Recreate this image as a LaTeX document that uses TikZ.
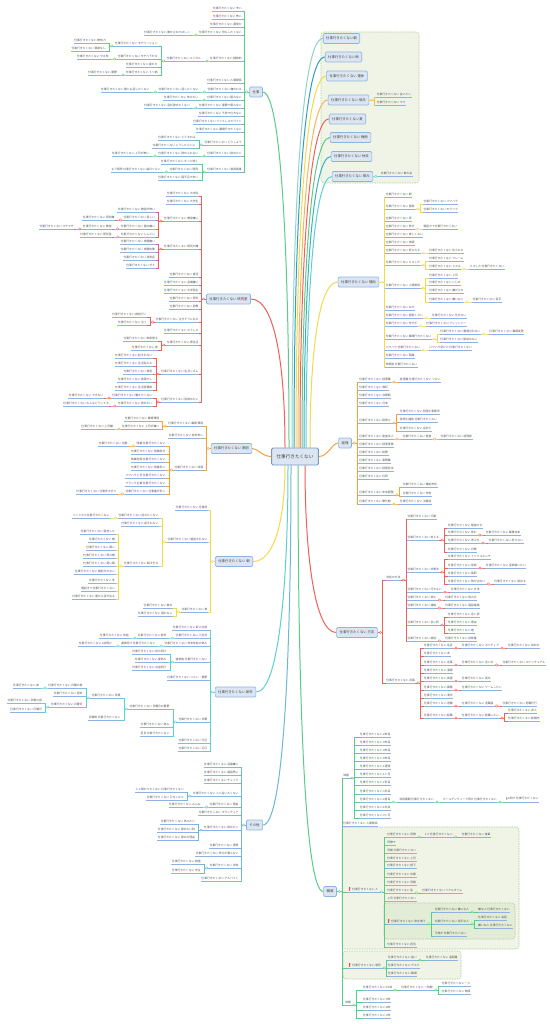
\documentclass[tikz,border=0pt]{standalone}
\usepackage{fontspec}
\newfontfamily\jp{Noto Sans CJK JP}
\usetikzlibrary{calc,backgrounds}
\definecolor{cG}{HTML}{5BCB8A}
\definecolor{cR}{HTML}{F0605A}
\definecolor{cO}{HTML}{F6A03A}
\definecolor{cY}{HTML}{F2DA48}
\definecolor{cT}{HTML}{5DD0CF}
\definecolor{cB}{HTML}{6CB8D6}
\definecolor{cT1}{HTML}{8FD3CF}
\definecolor{cT2}{HTML}{2E9FBF}
\definecolor{cT3}{HTML}{3AB0C0}
\definecolor{cP}{HTML}{F7B65A}
\definecolor{ul}{HTML}{8DB3E2}
\definecolor{bxf}{HTML}{DCE6F2}
\definecolor{bxd}{HTML}{8DB3E2}
\definecolor{tx}{HTML}{555555}
\definecolor{grf}{HTML}{EFF4E7}
\definecolor{grf2}{HTML}{E3ECD6}
\definecolor{grd}{HTML}{B5CD92}
\definecolor{flagc}{HTML}{F04A3A}
\newcommand\sk{仕事行きたくない}
\newcommand\Lf[5][8]{\path let \p1=(#3),\p2=(0,#4) in node[leaf,anchor=south east] (#2) at (\x1-#1pt,\y2) {#5};}
\newcommand\Rf[5][8]{\path let \p1=(#3),\p2=(0,#4) in node[leaf,anchor=south west] (#2) at (\x1+#1pt,\y2) {#5};}
\newcommand\Lc[3]{\foreach \ch in {#3}{\draw[br=#1] (#2) -- ++(-5,0) |- (\ch.south east);}\node[mk=#1] at ($(#2)+(-2.6,0)$) {};}
\newcommand\Rc[3]{\foreach \ch in {#3}{\draw[br=#1] (#2) -- ++(5,0) |- (\ch.south west);}\node[mk=#1] at ($(#2)+(2.6,0)$) {};}
\newcommand\Flag[1]{\fill[flagc] ($(#1.south west)+(1.0,-1.3)$) rectangle ++(0.35,-3.4); \fill[flagc] ($(#1.south west)+(1.35,-4.7)$) -- ++(2.2,0.7) -- ++(-2.2,0.7) -- cycle;}
\begin{document}
\begin{tikzpicture}[x=1pt,y=-1pt,
 leaf/.style={font=\jp\fontsize{2.8}{3.2}\selectfont,text=tx,inner xsep=0.6pt,inner ysep=1.4pt,outer sep=0pt,
   append after command={(\tikzlastnode.south west) edge[draw=ul,line width=0.75pt] (\tikzlastnode.south east)}},
 bx/.style={font=\jp\fontsize{3.4}{4}\selectfont,text=black!75,draw=bxd,fill=bxf,line width=0.7pt,rounded corners=1.3pt,inner xsep=3pt,inner ysep=0pt,minimum height=10pt},
 ctrs/.style={font=\jp\fontsize{4.6}{5}\selectfont,text=black!75,draw=bxd!85!black,fill=bxf,line width=0.9pt,rounded corners=1.5pt,minimum height=17pt,inner xsep=5pt,inner ysep=0pt},
 mk/.style={circle,draw=#1,fill=white,line width=0.35pt,inner sep=0pt,minimum size=2.4pt},
 br/.style={draw=#1,line width=0.5pt},
 rt/.style={draw=#1,line width=1pt},
 gbox/.style={fill=grf,draw=grd,dash pattern=on 1.5pt off 1pt,line width=0.6pt,rounded corners=3pt}]
\useasboundingbox (0,0) rectangle (549,1024);
\node[ctrs] (ctr) at (295,456.5) {\sk};

% ---------- 仕事 ----------
\node[bx] (g0) at (256,92) {仕事};
\Lf[7]{g1}{g0.west}{11}{\sk{} 辛い}
\Lf[7]{g2}{g0.west}{19}{\sk{} 怖い}
\Lf[7]{g3}{g0.west}{27}{\sk{} 面倒だ}
\Lf[7]{g4}{g0.west}{35}{\sk{} 何もしたくない}
\Lf{g4a}{g4.south west}{35}{\sk{} 誰か止めてほしい}
\Lf[7]{g5}{g0.west}{61}{\sk{} 精神的}
\Lf{g5a}{g5.south west}{61}{\sk{} メンタル}
\Lf{g5a1}{g5a.south west}{46}{\sk{} モチベーション}
\Lf{g5a1a}{g5a1.south west}{43}{\sk{} 無気力}
\Lf{g5a1b}{g5a1.south west}{51}{\sk{} 意欲なし}
\Lf{g5a2}{g5a.south west}{59}{\sk{} モチベ下がる}
\Lf{g5a2a}{g5a2.south west}{59}{\sk{} やる気}
\Lf{g5a3}{g5a.south west}{67}{\sk{} 疲れた}
\Lf{g5a4}{g5a.south west}{75}{\sk{} うつ病}
\Lf{g5a4a}{g5a4.south west}{75}{\sk{} 憂鬱}
\Lf[7]{g6}{g0.west}{83}{\sk{} 人間関係}
\Lf[7]{g7}{g0.west}{92}{\sk{} 嫌われる}
\Lf{g7a}{g7.south west}{92}{\sk{} 話したくない}
\Lf{g7a1}{g7a.south west}{92}{\sk{} 誰とも話したくない}
\Lf[7]{g8}{g0.west}{100}{\sk{} 眠れない}
\Lf{g8a}{g8.south west}{100}{\sk{} 休みたい}
\Lf[7]{g9}{g0.west}{108}{\sk{} 憂鬱で眠れない}
\Lf{g9a}{g9.south west}{108}{\sk{} 会社辞めたくない}
\Lf[7]{g10}{g0.west}{116}{\sk{} 不安で仕方ない}
\Lf[7]{g11}{g0.west}{124}{\sk{} ファミレスでバイト}
\Lf[7]{g12}{g0.west}{132}{\sk{} 職場行きたくない}
\Lf[7]{g13}{g0.west}{145}{\sk{} どうしよう}
\Lf{g13a}{g13.south west}{140}{\sk{} どうすれば}
\Lf{g13b}{g13.south west}{148}{\sk{} どうしたらいい}
\Lf[7]{g14}{g0.west}{156}{\sk{} 辞めたい}
\Lf{g14a}{g14.south west}{156}{\sk{} 辞められない}
\Lf{g14a1}{g14a.south west}{156}{\sk{} 上司が怖い}
\Lf[7]{g15}{g0.west}{172}{\sk{} 満員電車}
\Lf{g15a}{g15.south west}{164}{\sk{} ずっと続く}
\Lf{g15b}{g15.south west}{172}{\sk{} 限界}
\Lf{g15b1}{g15b.south west}{172}{もう限界 \sk{} 毎日つらい}
\Lf{g15c}{g15.south west}{180}{\sk{} 寝不足で辛い}
\Lc{cG}{g0.west}{g1,g2,g3,g4,g5,g6,g7,g8,g9,g10,g11,g12,g13,g14,g15}
\Lc{cG}{g4.south west}{g4a}
\Lc{cG}{g5.south west}{g5a}
\Lc{cG}{g5a.south west}{g5a1,g5a2,g5a3,g5a4}
\Lc{cG}{g5a1.south west}{g5a1a,g5a1b}
\Lc{cG}{g5a2.south west}{g5a2a}
\Lc{cG}{g5a4.south west}{g5a4a}
\Lc{cG}{g7.south west}{g7a}
\Lc{cG}{g7a.south west}{g7a1}
\Lc{cG}{g8.south west}{g8a}
\Lc{cG}{g9.south west}{g9a}
\Lc{cG}{g13.south west}{g13a,g13b}
\Lc{cG}{g14.south west}{g14a}
\Lc{cG}{g14a.south west}{g14a1}
\Lc{cG}{g15.south west}{g15a,g15b,g15c}
\Lc{cG}{g15b.south west}{g15b1}

% ---------- 研究室 ----------
\node[bx] (k0) at (228.5,299) {\sk{} 研究室};
\Lf[7]{k1}{k0.west}{196}{\sk{} 大学院}
\Lf[7]{k2}{k0.west}{204}{\sk{} 大学生}
\Lf[7]{k3}{k0.west}{221}{\sk{} 教授嫌い}
\Lf{k3a}{k3.south west}{212}{\sk{} 教授が怖い}
\Lf{k3b}{k3.south west}{220}{\sk{} 苦しい}
\Lf{k3b1}{k3b.south west}{220}{\sk{} 研究嫌}
\Lf{k3c}{k3.south west}{229}{\sk{} 論文嫌い}
\Lf{k3c1}{k3c.south west}{229}{\sk{} 教授}
\Lf{k3c1a}{k3c1.south west}{229}{\sk{} マチマチ}
\Lf{k3d}{k3.south west}{237}{\sk{} しんどい}
\Lf{k3d1}{k3d.south west}{237}{\sk{} 研究室}
\Lf[7]{k4}{k0.west}{249}{\sk{} 研究が嫌}
\Lf{k4a}{k4.south west}{244}{\sk{} 実験嫌い}
\Lf{k4b}{k4.south west}{252}{\sk{} 実験失敗}
\Lf{k4c}{k4.south west}{260}{\sk{} 発表会}
\Lf{k4d}{k4.south west}{268}{\sk{} ゼミ}
\Lf[7]{k5}{k0.west}{277}{\sk{} 就活}
\Lf[7]{k6}{k0.west}{285}{\sk{} 会議嫌い}
\Lf[7]{k7}{k0.west}{293}{\sk{} 大学院生}
\Lf[7]{k8}{k0.west}{301}{\sk{} 研究}
\Lf[7]{k9}{k0.west}{309}{\sk{} 助教}
\Lf[7]{k10}{k0.west}{322}{\sk{} 泣きそうになる}
\Lf{k10a}{k10.south west}{317}{\sk{} 病院行く}
\Lf{k10b}{k10.south west}{325}{\sk{} 泣く}
\Lf[7]{k11}{k0.west}{333}{\sk{} ストレス}
\Lf[7]{k12}{k0.west}{345}{\sk{} 寮生活}
\Lf{k12a}{k12.south west}{341}{\sk{} 実家帰る}
\Lf{k12b}{k12.south west}{350}{\sk{} 家}
\Lf[7]{k13}{k0.west}{374}{\sk{} 生活リズム}
\Lf{k13a}{k13.south west}{358}{\sk{} 起きれない}
\Lf{k13b}{k13.south west}{366}{\sk{} 生活乱れる}
\Lf{k13c}{k13.south west}{374}{\sk{} 夜型}
\Lf{k13d}{k13.south west}{382}{\sk{} 夜更かし}
\Lf{k13e}{k13.south west}{390}{\sk{} 生活習慣病}
\Lf[7]{k14}{k0.west}{402}{\sk{} 院辞めたい}
\Lf{k14a}{k14.south west}{398}{\sk{} 働きたくない}
\Lf{k14a1}{k14a.south west}{398}{\sk{} できない}
\Lf{k14b}{k14.south west}{406}{\sk{} 辞めたい}
\Lf{k14b1}{k14b.south west}{406}{\sk{} みんなどうしてる}
\Lc{cR}{k0.west}{k1,k2,k3,k4,k5,k6,k7,k8,k9,k10,k11,k12,k13,k14}
\Lc{cR}{k3.south west}{k3a,k3b,k3c,k3d}
\Lc{cR}{k3b.south west}{k3b1}
\Lc{cR}{k3c.south west}{k3c1}
\Lc{cR}{k3c1.south west}{k3c1a}
\Lc{cR}{k3d.south west}{k3d1}
\Lc{cR}{k4.south west}{k4a,k4b,k4c,k4d}
\Lc{cR}{k10.south west}{k10a,k10b}
\Lc{cR}{k12.south west}{k12a,k12b}
\Lc{cR}{k13.south west}{k13a,k13b,k13c,k13d,k13e}
\Lc{cR}{k14.south west}{k14a,k14b}
\Lc{cR}{k14a.south west}{k14a1}
\Lc{cR}{k14b.south west}{k14b1}

% ---------- 原因 ----------
\node[bx] (y0) at (231.5,448.5) {\sk{} 原因};
\Lf[7]{y1}{y0.west}{426}{\sk{} 職場 環境}
\Lf{y1a}{y1.south west}{421}{\sk{} 職場環境}
\Lf{y1b}{y1.south west}{429}{\sk{} 上司が嫌い}
\Lf{y1b1}{y1b.south west}{429}{\sk{} 上司嫌}
\Lf[7]{y2}{y0.west}{438}{\sk{} 給料安い}
\Lf[7]{y3}{y0.west}{470}{\sk{} 待遇}
\Lf{y3a}{y3.south west}{446}{残業 \sk}
\Lf{y3a1}{y3a.south west}{446}{\sk{} 出勤}
\Lf{y3b}{y3.south west}{454}{\sk{} 残業続き}
\Lf{y3c}{y3.south west}{462}{残業地獄 \sk}
\Lf{y3d}{y3.south west}{470}{\sk{} 残業多い}
\Lf{y3e}{y3.south west}{478}{パワハラ上司 \sk}
\Lf{y3f}{y3.south west}{486}{ブラック企業 \sk}
\Lf{y3g}{y3.south west}{494}{\sk{} 仕事量が多い}
\Lf{y3g1}{y3g.south west}{494}{\sk{} 仕事多すぎて}
\Lc{cO}{y0.west}{y1,y2,y3}
\Lc{cO}{y1.south west}{y1a,y1b}
\Lc{cO}{y1b.south west}{y1b1}
\Lc{cO}{y3.south west}{y3a,y3b,y3c,y3d,y3e,y3f,y3g}
\Lc{cO}{y3a.south west}{y3a1}
\Lc{cO}{y3g.south west}{y3g1}

% ---------- 朝 ----------
\node[bx] (a0) at (234,561.5) {\sk{} 朝};
\Lf[7]{a1}{a0.west}{510}{\sk{} 月曜日}
\Lf[7]{a2}{a0.west}{542}{\sk{} 朝起きれない}
\Lf{a2a}{a2.south west}{518}{\sk{} 起きたくない}
\Lf{a2a1}{a2a.south west}{518}{ベッドから\sk}
\Lf{a2b}{a2.south west}{526}{\sk{} 起きれない}
\Lf{a2c}{a2.south west}{566}{\sk{} 眠すぎる}
\Lf{a2c1}{a2c.south west}{534}{\sk{} 寝坊した}
\Lf{a2c2}{a2c.south west}{542}{\sk{} 朝}
\Lf{a2c3}{a2c.south west}{550}{\sk{} 眠い}
\Lf{a2c4}{a2c.south west}{558}{\sk{} 雨の朝}
\Lf{a2c5}{a2c.south west}{566}{\sk{} 寒い朝}
\Lf{a2c6}{a2c.south west}{574}{\sk{} 朝起きれない}
\Lf{a2c7}{a2c.south west}{583}{\sk{} 冬}
\Lf{a2c8}{a2c.south west}{591}{朝起きて\sk}
\Lf{a2c9}{a2c.south west}{599}{\sk{} 朝から涙が出る}
\Lf[7]{a3}{a0.west}{612}{\sk{} 夜}
\Lf{a3a}{a3.south west}{608}{\sk{} 夜中}
\Lf{a3b}{a3.south west}{616}{\sk{} 寝れない}
\Lc{cY}{a0.west}{a1,a2,a3}
\Lc{cY}{a2.south west}{a2a,a2b,a2c}
\Lc{cY}{a2a.south west}{a2a1}
\Lc{cY}{a2c.south west}{a2c1,a2c2,a2c3,a2c4,a2c5,a2c6,a2c7,a2c8,a2c9}
\Lc{cY}{a3.south west}{a3a,a3b}

% ---------- 新卒 ----------
\node[bx] (t0) at (235.5,692) {\sk{} 新卒};
\Lf[7]{t1}{t0.west}{630}{\sk{} 新入社員}
\Lf[7]{t2}{t0.west}{638}{\sk{} 入社式}
\Lf{t2a}{t2.south west}{638}{\sk{} 新年}
\Lf{t2a1}{t2a.south west}{638}{\sk{} 年始}
\Lf[7]{t3}{t0.west}{646}{\sk{} 年末年始の休み}
\Lf{t3a}{t3.south west}{646}{連休明け \sk}
\Lf{t3a1}{t3a.south west}{646}{\sk{} GW明け}
\Lf[7]{t4}{t0.west}{662}{連休後 \sk}
\Lf{t4a}{t4.south west}{654}{\sk{} 休み明け}
\Lf{t4b}{t4.south west}{662}{\sk{} 夏休み}
\Lf{t4c}{t4.south west}{670}{\sk{} お盆明け}
\Lf[7]{t5}{t0.west}{680}{\sk{} つらい・憂鬱}
\Lf[7]{t6}{t0.west}{722}{\sk{} 日曜}
\Lf{t6a}{t6.south west}{709}{\sk{} 日曜日の憂鬱}
\Lf{t6a1}{t6a.south west}{698}{\sk{} 日曜}
\Lf{t6a1a}{t6a1.south west}{688}{\sk{} 日曜の夜}
\Lf{t6a1a1}{t6a1a.south west}{688}{\sk{} 夜}
\Lf{t6a1b}{t6a1.south west}{696}{\sk{} 週末}
\Lf{t6a1c}{t6a1.south west}{707}{\sk{} 日曜日}
\Lf{t6a1c1}{t6a1c.south west}{703}{\sk{} 日曜の昼}
\Lf{t6a1c2}{t6a1c.south west}{712}{\sk{} 月曜日}
\Lf{t6a2}{t6a.south west}{720}{日曜夜 \sk}
\Lf{t6b}{t6.south west}{727}{\sk{} 休み}
\Lf{t6c}{t6.south west}{736}{翌日 \sk}
\Lf[7]{t7}{t0.west}{743}{\sk{} 元旦}
\Lf[7]{t8}{t0.west}{751}{\sk{} 正月}
\Lc{cT}{t0.west}{t1,t2,t3,t4,t5,t6,t7,t8}
\Lc{cT}{t2.south west}{t2a}
\Lc{cT}{t2a.south west}{t2a1}
\Lc{cT}{t3.south west}{t3a}
\Lc{cT}{t3a.south west}{t3a1}
\Lc{cT}{t4.south west}{t4a,t4b,t4c}
\Lc{cT}{t6.south west}{t6a,t6b,t6c}
\Lc{cT}{t6a.south west}{t6a1,t6a2}
\Lc{cT}{t6a1.south west}{t6a1a,t6a1b,t6a1c}
\Lc{cT}{t6a1a.south west}{t6a1a1}
\Lc{cT}{t6a1c.south west}{t6a1c1,t6a1c2}

% ---------- その他 ----------
\node[bx] (s0) at (254.5,825) {その他};
\Lf[7]{s1}{s0.west}{767}{\sk{} 会議嫌い}
\Lf[7]{s2}{s0.west}{775}{\sk{} 電話怖い}
\Lf[7]{s3}{s0.west}{783}{\sk{} チェック}
\Lf[7]{s4}{s0.west}{796}{\sk{} 人と会いたくない}
\Lf{s4a}{s4.south west}{792}{人と関わりたくない \sk}
\Lf{s4b}{s4.south west}{800}{\sk{} 引きこもり}
\Lf[7]{s5}{s0.west}{807}{\sk{} 理由}
\Lf{s5a}{s5.south west}{807}{\sk{} みんな}
\Lf[7]{s6}{s0.west}{815}{\sk{} ボランティア}
\Lf[7]{s7}{s0.west}{830}{\sk{} 辞めたい}
\Lf{s7a}{s7.south west}{824}{\sk{} 休みたい}
\Lf{s7b}{s7.south west}{832}{\sk{} 辞めたい時}
\Lf{s7c}{s7.south west}{840}{\sk{} 辞める理由}
\Lf[7]{s8}{s0.west}{848}{\sk{} 理想}
\Lf[7]{s9}{s0.west}{856}{\sk{} 気分が乗らない}
\Lf[7]{s10}{s0.west}{868}{\sk{} 学校}
\Lf{s10a}{s10.south west}{864}{\sk{} 勉強}
\Lf{s10b}{s10.south west}{873}{\sk{} 学生}
\Lf[7]{s11}{s0.west}{881}{\sk{} アルバイト}
\Lc{cB}{s0.west}{s1,s2,s3,s4,s5,s6,s7,s8,s9,s10,s11}
\Lc{cB}{s4.south west}{s4a,s4b}
\Lc{cB}{s5.south west}{s5a}
\Lc{cB}{s7.south west}{s7a,s7b,s7c}
\Lc{cB}{s10.south west}{s10a,s10b}

% ---------- right top boxes ----------
\node[bx] (r1) at (341.5,38.5) {\sk 朝};
\node[bx] (r2) at (343.5,57) {\sk 雨};
\node[bx] (r3) at (347,76) {\sk{} 連休};
\node[bx] (r4) at (348.5,100) {\sk{} 彼氏};
\Rf[7]{r4a}{r4.east}{97}{\sk{} 会いたい}
\Rf[7]{r4b}{r4.east}{105}{\sk{} ママ}
\node[bx] (r5) at (347.5,119) {\sk 夏};
\node[bx] (r6) at (350.5,137.5) {\sk{} 梅雨};
\node[bx] (r7) at (351.5,156.5) {\sk{} 休日};
\node[bx] (r8) at (352.5,176.5) {\sk{} 飲み};
\Rf[7]{r8a}{r8.east}{176.5}{\sk{} 飲み会}
\Rc{cP}{r4.east}{r4a,r4b}
\Rc{cT}{r8.east}{r8a}

% ---------- 理由 ----------
\node[bx] (ri0) at (358.5,282) {\sk{} 理由};
\Rf[6]{ri1}{ri0.east}{197}{\sk{} 朝}
\Rf[6]{ri2}{ri0.east}{209}{\sk{} 面倒}
\Rf{ri2a}{ri2.south east}{204}{\sk{} パワハラ}
\Rf{ri2b}{ri2.south east}{212}{\sk{} モラハラ}
\Rf[6]{ri3}{ri0.east}{221}{\sk{} 雨}
\Rf[6]{ri4}{ri0.east}{229}{\sk{} 気分}
\Rf{ri4a}{ri4.south east}{229}{朝起きて\sk}
\Rf[6]{ri5}{ri0.east}{237}{\sk{} 楽しくない}
\Rf[6]{ri6}{ri0.east}{245}{\sk{} 体調}
\Rf[6]{ri7}{ri0.east}{253}{\sk{} 怒られる}
\Rf{ri7a}{ri7.south east}{253}{\sk{} 叱られる}
\Rf[6]{ri8}{ri0.east}{265}{\sk{} ミスした}
\Rf{ri8a}{ri8.south east}{261}{\sk{} クレーム}
\Rf{ri8b}{ri8.south east}{269}{\sk{} ミスる}
\Rf{ri8b1}{ri8b.south east}{269}{ミスした \sk}
\Rf[6]{ri9}{ri0.east}{288}{\sk{} 人間関係}
\Rf{ri9a}{ri9.south east}{278}{\sk{} 上司}
\Rf{ri9b}{ri9.south east}{285}{\sk{} いじめ}
\Rf{ri9c}{ri9.south east}{293}{\sk{} 嫌がらせ}
\Rf{ri9d}{ri9.south east}{302}{\sk{} 嫌いな人}
\Rf{ri9d1}{ri9d.south east}{302}{\sk{} 苦手}
\Rf[6]{ri10}{ri0.east}{310}{\sk{} なぜ}
\Rf[6]{ri11}{ri0.east}{318}{\sk{} 面倒くさい}
\Rf{ri11a}{ri11.south east}{318}{\sk{} 仕方ない}
\Rf[6]{ri12}{ri0.east}{326}{\sk{} 辛すぎ}
\Rf{ri12a}{ri12.south east}{326}{\sk{} プレッシャー}
\Rf[6]{ri13}{ri0.east}{339}{\sk{} 職場行きたくない}
\Rf{ri13a}{ri13.south east}{334}{\sk{} 職場合わない}
\Rf{ri13a1}{ri13a.south east}{334}{\sk{} 職場変更}
\Rf{ri13b}{ri13.south east}{342}{\sk{} 馴染めない}
\Rf[6]{ri14}{ri0.east}{350}{パワハラ \sk}
\Rf{ri14a}{ri14.south east}{350}{パワハラ受けた \sk}
\Rf[6]{ri15}{ri0.east}{358}{\sk{} 頭痛}
\Rf[6]{ri16}{ri0.east}{367}{休暇後 \sk}
\Rc{cY}{ri0.east}{ri1,ri2,ri3,ri4,ri5,ri6,ri7,ri8,ri9,ri10,ri11,ri12,ri13,ri14,ri15,ri16}
\Rc{cY}{ri2.south east}{ri2a,ri2b}
\Rc{cY}{ri4.south east}{ri4a}
\Rc{cY}{ri7.south east}{ri7a}
\Rc{cY}{ri8.south east}{ri8a,ri8b}
\Rc{cY}{ri8b.south east}{ri8b1}
\Rc{cY}{ri9.south east}{ri9a,ri9b,ri9c,ri9d}
\Rc{cY}{ri9d.south east}{ri9d1}
\Rc{cY}{ri11.south east}{ri11a}
\Rc{cY}{ri12.south east}{ri12a}
\Rc{cY}{ri13.south east}{ri13a,ri13b}
\Rc{cY}{ri13a.south east}{ri13a1}
\Rc{cY}{ri14.south east}{ri14a}

% ---------- 経理 ----------
\node[bx] (kr0) at (345,443) {経理};
\Rf[7]{kr1}{kr0.east}{382}{\sk{} 経理職}
\Rf{kr1a}{kr1.south east}{382}{経理職 \sk{} つらい}
\Rf[7]{kr2}{kr0.east}{390}{\sk{} 簿記}
\Rf[7]{kr3}{kr0.east}{398}{\sk{} 決算期}
\Rf[7]{kr4}{kr0.east}{406}{\sk{} 月末}
\Rf[7]{kr5}{kr0.east}{423}{\sk{} 税理士}
\Rf{kr5a}{kr5.south east}{414}{\sk{} 税理士事務所}
\Rf{kr5b}{kr5.south east}{422}{税理士補助 \sk}
\Rf{kr5c}{kr5.south east}{431}{\sk{} 会計士}
\Rf[7]{kr6}{kr0.east}{439}{\sk{} 監査法人}
\Rf{kr6a}{kr6.south east}{439}{\sk{} 監査}
\Rf{kr6a1}{kr6a.south east}{439}{\sk{} 経理部}
\Rf[7]{kr7}{kr0.east}{447}{\sk{} 経理事務}
\Rf[7]{kr8}{kr0.east}{455}{\sk{} 総務}
\Rf[7]{kr9}{kr0.east}{463}{\sk{} 事務職}
\Rf[7]{kr10}{kr0.east}{471}{\sk{} 経理担当}
\Rf[7]{kr11}{kr0.east}{479}{\sk{} 仕訳}
\Rf[7]{kr12}{kr0.east}{495}{\sk{} 年末調整}
\Rf{kr12a}{kr12.south east}{487}{\sk{} 確定申告}
\Rf{kr12b}{kr12.south east}{496}{\sk{} 申告}
\Rf[7]{kr13}{kr0.east}{504}{\sk{} 繁忙期}
\Rf{kr13a}{kr13.south east}{504}{\sk{} 決算前}
\Rc{cO}{kr0.east}{kr1,kr2,kr3,kr4,kr5,kr6,kr7,kr8,kr9,kr10,kr11,kr12,kr13}
\Rc{cO}{kr1.south east}{kr1a}
\Rc{cO}{kr5.south east}{kr5a,kr5b,kr5c}
\Rc{cO}{kr6.south east}{kr6a}
\Rc{cO}{kr6a.south east}{kr6a1}
\Rc{cO}{kr12.south east}{kr12a,kr12b}
\Rc{cO}{kr13.south east}{kr13a}

% ---------- 方法 ----------
\node[bx] (h0) at (357,632.5) {\sk{} 方法};
\Rf{hA}{h0.east}{580}{対処の方法}
\Rf[6]{hA1}{hA.south east}{519}{\sk{} 行動}
\Rf[6]{hA2}{hA.south east}{540}{\sk{} 考える}
\Rf{hA2a}{hA2.south east}{528}{\sk{} 勉強する}
\Rf{hA2b}{hA2.south east}{535}{\sk{} 休む}
\Rf{hA2b1}{hA2b.south east}{535}{\sk{} 業務効率}
\Rf{hA2c}{hA2.south east}{543}{\sk{} 考え方}
\Rf{hA2c1}{hA2c.south east}{543}{\sk{} 考えない}
\Rf{hA2d}{hA2.south east}{552}{\sk{} 対策}
\Rf[6]{hA3}{hA.south east}{572}{\sk{} 対策法}
\Rf{hA3a}{hA3.south east}{559}{\sk{} インフルエンザ}
\Rf{hA3b}{hA3.south east}{568}{\sk{} 仮病}
\Rf{hA3b1}{hA3b.south east}{568}{\sk{} 仮病使いたい}
\Rf{hA3c}{hA3.south east}{576}{\sk{} 風邪}
\Rf{hA3d}{hA3.south east}{584}{\sk{} 熱が出ない}
\Rf{hA3d1}{hA3d.south east}{584}{\sk{} 熱出す}
\Rf[6]{hA4}{hA.south east}{592}{\sk{} 行かない}
\Rf{hA4a}{hA4.south east}{592}{\sk{} 方法}
\Rf[6]{hA5}{hA.south east}{600}{\sk{} 休む}
\Rf{hA5a}{hA5.south east}{600}{\sk{} 休み方}
\Rf[6]{hA6}{hA.south east}{608}{\sk{} 連絡}
\Rf{hA6a}{hA6.south east}{608}{\sk{} 電話連絡}
\Rf[6]{hA7}{hA.south east}{625}{\sk{} 言い訳}
\Rf{hA7a}{hA7.south east}{617}{\sk{} 言い訳}
\Rf{hA7b}{hA7.south east}{625}{\sk{} 理由}
\Rf{hA7c}{hA7.south east}{633}{\sk{} 嘘}
\Rf[6]{hA8}{hA.south east}{641}{\sk{} 病院}
\Rf{hA8a}{hA8.south east}{641}{\sk{} 診断書}
\Rf{hB}{h0.east}{683}{\sk{} 言葉}
\Rf{hB1}{hB.south east}{648}{\sk{} 名言}
\Rf{hB1a}{hB1.south east}{648}{\sk{} ポジティブ}
\Rf{hB1a1}{hB1a.south east}{648}{\sk{} 前向き}
\Rf{hB2}{hB.south east}{656}{\sk{} 本}
\Rf{hB3}{hB.south east}{665}{\sk{} 言葉}
\Rf{hB3a}{hB3.south east}{665}{\sk{} 言い方}
\Rf{hB3a1}{hB3a.south east}{665}{\sk{} スピリチュアル}
\Rf{hB4}{hB.south east}{673}{\sk{} 漫画}
\Rf{hB5}{hB.south east}{681}{\sk{} 英語}
\Rf{hB5a}{hB5.south east}{681}{\sk{} 英文}
\Rf{hB6}{hB.south east}{690}{\sk{} 画像}
\Rf{hB6a}{hB6.south east}{690}{\sk{} ゲームしたい}
\Rf{hB7}{hB.south east}{698}{\sk{} 漢字}
\Rf{hB8}{hB.south east}{706}{\sk{} 退職}
\Rf{hB8a}{hB8.south east}{706}{\sk{} 退職届}
\Rf{hB8a1}{hB8a.south east}{706}{\sk{} 退職代行}
\Rf{hB9}{hB.south east}{718}{\sk{} 転職}
\Rf{hB9a}{hB9.south east}{718}{\sk{} 転職したい}
\Rf{hB9a1}{hB9a.south east}{713}{\sk{} 求人}
\Rf{hB9a2}{hB9a.south east}{721}{\sk{} 転職先}
\Rc{cR}{h0.east}{hA,hB}
\Rc{cR}{hA.south east}{hA1,hA2,hA3,hA4,hA5,hA6,hA7,hA8}
\Rc{cR}{hA2.south east}{hA2a,hA2b,hA2c,hA2d}
\Rc{cR}{hA2b.south east}{hA2b1}
\Rc{cR}{hA2c.south east}{hA2c1}
\Rc{cR}{hA3.south east}{hA3a,hA3b,hA3c,hA3d}
\Rc{cR}{hA3b.south east}{hA3b1}
\Rc{cR}{hA3d.south east}{hA3d1}
\Rc{cR}{hA4.south east}{hA4a}
\Rc{cR}{hA5.south east}{hA5a}
\Rc{cR}{hA6.south east}{hA6a}
\Rc{cR}{hA7.south east}{hA7a,hA7b,hA7c}
\Rc{cR}{hA8.south east}{hA8a}
\Rc{cR}{hB.south east}{hB1,hB2,hB3,hB4,hB5,hB6,hB7,hB8,hB9}
\Rc{cR}{hB1.south east}{hB1a}
\Rc{cR}{hB1a.south east}{hB1a1}
\Rc{cR}{hB3.south east}{hB3a}
\Rc{cR}{hB3a.south east}{hB3a1}
\Rc{cR}{hB5.south east}{hB5a}
\Rc{cR}{hB6.south east}{hB6a}
\Rc{cR}{hB8.south east}{hB8a}
\Rc{cR}{hB8a.south east}{hB8a1}
\Rc{cR}{hB9.south east}{hB9a}
\Rc{cR}{hB9a.south east}{hB9a1,hB9a2}

% ---------- 職場 ----------
\node[bx] (w0) at (330,891.5) {職場};
\Rf[6]{wC1}{w0.east}{778}{時期}
\Rf[10]{w1}{wC1.south east}{737}{\sk{} 2年目}
\Rf[10]{w2}{wC1.south east}{745}{\sk{} 3年目}
\Rf[10]{w3}{wC1.south east}{753}{\sk{} 4年目}
\Rf[10]{w4}{wC1.south east}{761}{\sk{} 5年目}
\Rf[10]{w5}{wC1.south east}{769}{\sk{} 1週間}
\Rf[10]{w6}{wC1.south east}{777}{\sk{} 1ヶ月}
\Rf[10]{w7}{wC1.south east}{785}{\sk{} 2日目}
\Rf[10]{w8}{wC1.south east}{794}{\sk{} 3日目}
\Rf[10]{w9}{wC1.south east}{802}{\sk{} 2週目}
\Rf{w9a}{w9.south east}{802}{試用期間 \sk}
\Rf{w9a1}{w9a.south east}{802}{ゴールデンウィーク明け \sk}
\Rf{w9a1a}{w9a1.south east}{802}{gw明け \sk}
\Rf[10]{w10}{wC1.south east}{810}{\sk{} 1年目}
\Rf[10]{w11}{wC1.south east}{818}{\sk{} 3ヶ月}
\Rf[6]{wC2}{w0.east}{826}{\sk{} 人間関係}
\Rf[11]{wC3}{w0.east}{892}{\hspace{4pt}\sk{} 人}
\Rf{wc1}{wC3.south east}{837}{\sk{} 同僚}
\Rf{wc1a}{wc1.south east}{837}{1人 \sk}
\Rf{wc1a1}{wc1a.south east}{837}{\sk{} 後輩}
\Rf{wc2}{wC3.south east}{845}{同僚で}
\Rf{wc3}{wC3.south east}{853}{同期 \sk}
\Rf{wc4}{wC3.south east}{861}{\sk{} 上司}
\Rf{wc5}{wC3.south east}{868}{\sk{} 部下}
\Rf{wc6}{wC3.south east}{877}{\sk{} 先輩}
\Rf{wc7}{wC3.south east}{885}{\sk{} 同期}
\Rf{wc8}{wC3.south east}{893}{\sk{} 私}
\Rf{wc8a}{wc8.south east}{893}{\sk{} リアルタイム}
\Rf{wc9}{wC3.south east}{901}{上司 \sk}
\Rf{wcB}{wC3.south east}{924}{\hspace{4pt}\sk{} 気を使う}
\Rf{wcb1}{wcB.south east}{912}{\sk{} 嫌いな人}
\Rf{wcb1a}{wcb1.south east}{912}{嫌な人 \sk}
\Rf{wcb2}{wcB.south east}{924}{\sk{} 苦手な人}
\Rf{wcb2a}{wcb2.south east}{920}{\sk{} 会話}
\Rf{wcb2b}{wcb2.south east}{928}{嫌いな人 \sk}
\Rf{wcb3}{wcB.south east}{936}{不満が \sk}
\Rf{wc10}{wC3.south east}{947}{\sk{} 担当}
\Rf[11]{wC4}{w0.east}{968}{\hspace{4pt}\sk{} 場所}
\Rf[6]{wd1}{wC4.south east}{960}{\sk{} 遠い}
\Rf{wd1a}{wd1.south east}{960}{\sk{} 遠距離}
\Rf[6]{wd2}{wC4.south east}{968}{\sk{} デスク}
\Rf[6]{wd3}{wC4.south east}{976}{\sk{} 職場}
\Rf[8]{wC5}{w0.east}{1005}{時間}
\Rf[11]{we1}{wC5.south east}{990}{\sk{} 10時}
\Rf{we1a}{we1.south east}{990}{\sk{} 一時間}
\Rf{we1a1}{we1a.south east}{986}{\sk{} 一人}
\Rf{we1a2}{we1a.south east}{994}{\sk{} 時間}
\Rf[11]{we2}{wC5.south east}{1002}{\sk{} 9時}
\Rf[11]{we3}{wC5.south east}{1010}{\sk{} 8時}
\Rf[11]{we4}{wC5.south east}{1018}{\sk{} 7時}
\Rc{cG}{w0.east}{wC1,wC2,wC3,wC4,wC5}
\Rc{cG}{wC1.south east}{w1,w2,w3,w4,w5,w6,w7,w8,w9,w10,w11}
\Rc{cG}{w9.south east}{w9a}
\Rc{cG}{w9a.south east}{w9a1}
\Rc{cG}{w9a1.south east}{w9a1a}
\Rc{cG}{wC3.south east}{wc1,wc2,wc3,wc4,wc5,wc6,wc7,wc8,wc9,wcB,wc10}
\Rc{cG}{wc1.south east}{wc1a}
\Rc{cG}{wc1a.south east}{wc1a1}
\Rc{cG}{wc8.south east}{wc8a}
\Rc{cG}{wcB.south east}{wcb1,wcb2,wcb3}
\Rc{cG}{wcb1.south east}{wcb1a}
\Rc{cG}{wcb2.south east}{wcb2a,wcb2b}
\Rc{cG}{wC4.south east}{wd1,wd2,wd3}
\Rc{cG}{wd1.south east}{wd1a}
\Rc{cG}{wC5.south east}{we1,we2,we3,we4}
\Rc{cG}{we1.south east}{we1a}
\Rc{cG}{we1a.south east}{we1a1,we1a2}
\Flag{wC3}
\Flag{wcB}
\Flag{wC4}

% ---------- background: boxes and main curves ----------
\begin{pgfonlayer}{background}
\fill[white] (0,0) rectangle (549,1024);
\draw[gbox] (321,32) rectangle (419,183);
\draw[gbox] (342,827) rectangle (519,949);
\draw[gbox,fill=grf2] (384,903) rectangle (515,939);
\draw[gbox] (343,951) rectangle (461,979);
\draw[rt=cR] ($(ctr.north)+(-10,0)$) .. controls (285,366) and (275,299) .. (k0.east);
\draw[rt=cG] ($(ctr.north)+(-6,0)$) .. controls (289,252) and (281,92) .. (g0.east);
\draw[rt=cT1] ($(ctr.north)+(-3,0)$) .. controls (292,223) and (301,38.5) .. (r1.west);
\draw[rt=cT2] ($(ctr.north)+(-1,0)$) .. controls (294,233) and (303,57) .. (r2.west);
\draw[rt=cY] ($(ctr.north)+(1,0)$) .. controls (296,243) and (305,76) .. (r3.west);
\draw[rt=cP] ($(ctr.north)+(3,0)$) .. controls (298,257) and (307,100) .. (r4.west);
\draw[rt=cR] ($(ctr.north)+(5,0)$) .. controls (300,267) and (309,119) .. (r5.west);
\draw[rt=cG] ($(ctr.north)+(7,0)$) .. controls (302,277) and (311,137.5) .. (r6.west);
\draw[rt=cT3] ($(ctr.north)+(9,0)$) .. controls (304,288) and (312,156.5) .. (r7.west);
\draw[rt=cT] ($(ctr.north)+(11,0)$) .. controls (306,299) and (314,176.5) .. (r8.west);
\draw[rt=cY] ($(ctr.north)+(15,0)$) .. controls (310,357) and (318,282) .. (ri0.west);
\draw[rt=cO] (ctr.west) .. controls (262,456.5) and (258,448.5) .. (y0.east);
\draw[rt=cO] (ctr.east) .. controls (328,456.5) and (332,443) .. (kr0.west);
\draw[rt=cY] ($(ctr.south)+(-10,0)$) .. controls (285,518) and (275,561.5) .. (a0.east);
\draw[rt=cT] ($(ctr.south)+(-7,0)$) .. controls (288,590) and (278,692) .. (t0.east);
\draw[rt=cB] ($(ctr.south)+(-4,0)$) .. controls (291,663) and (283,825) .. (s0.east);
\draw[rt=cG] ($(ctr.south)+(3,0)$) .. controls (298,699) and (305,891.5) .. (w0.west);
\draw[rt=cR] ($(ctr.south)+(10,0)$) .. controls (305,557) and (315,632.5) .. (h0.west);
\end{pgfonlayer}
\end{tikzpicture}
\end{document}
